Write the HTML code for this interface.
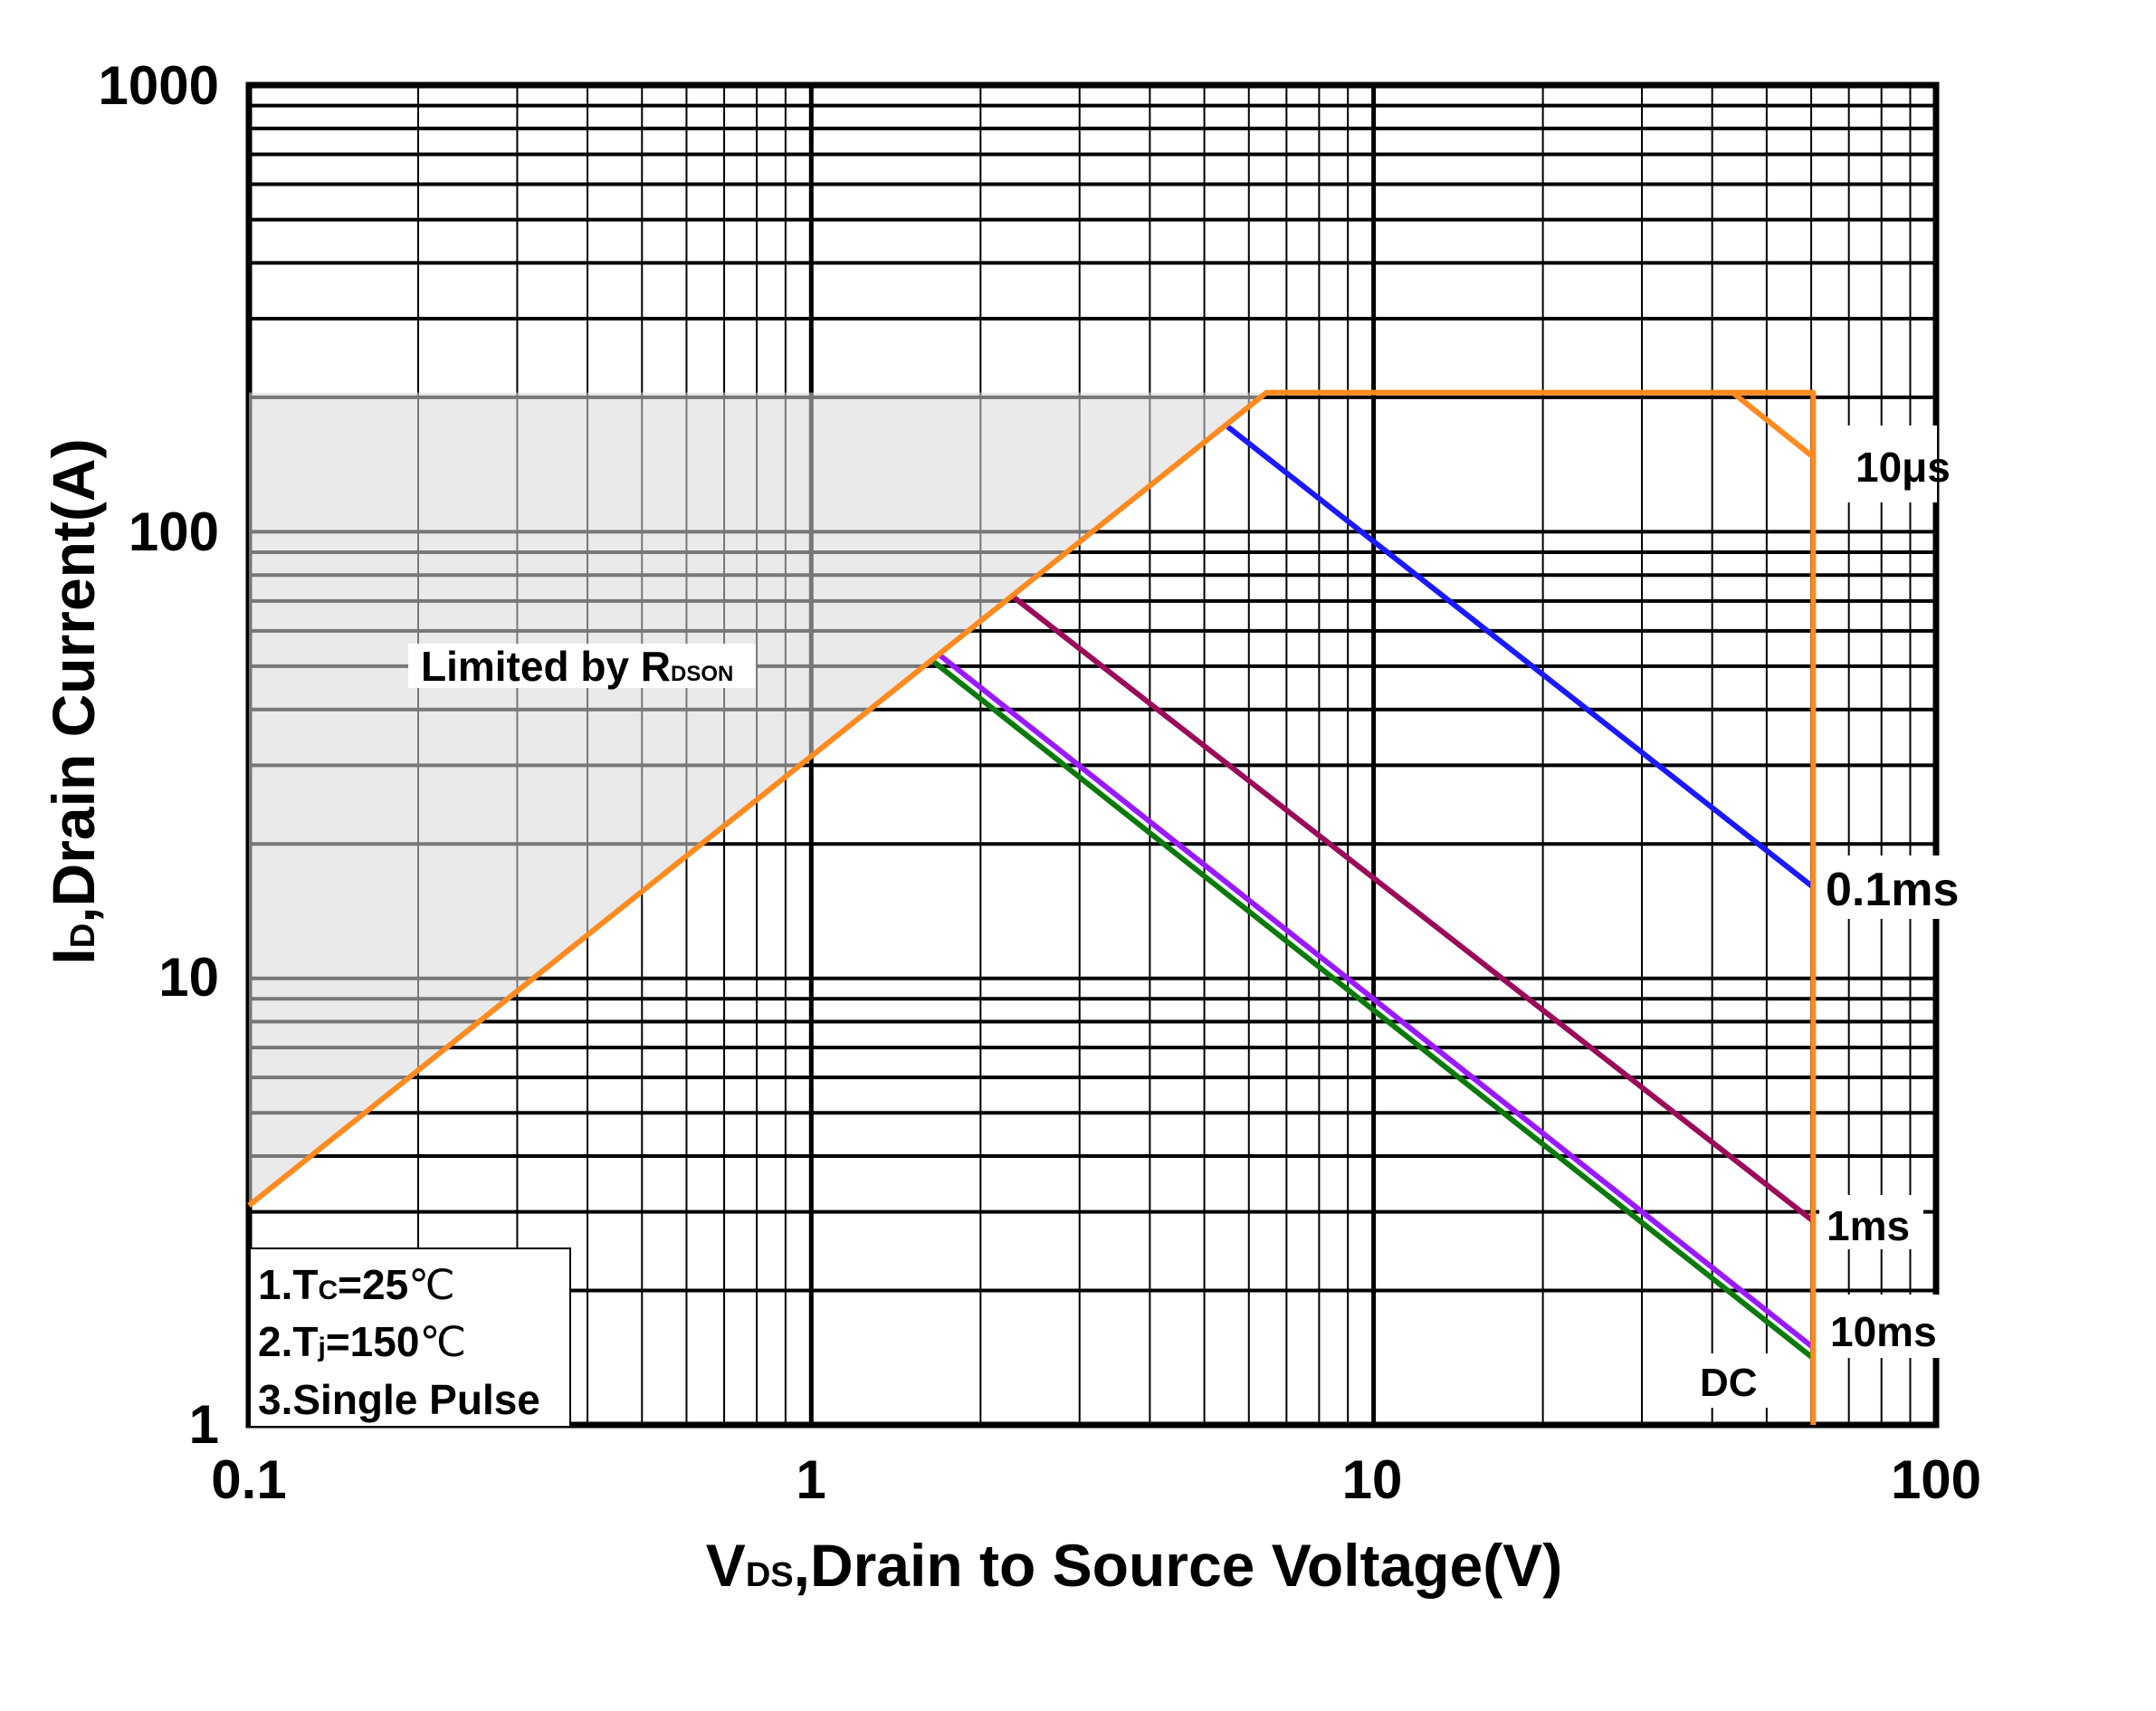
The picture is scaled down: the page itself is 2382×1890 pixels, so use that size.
<!DOCTYPE html>
<html><head><meta charset="utf-8"><style>
html,body{margin:0;padding:0;background:#fff}
svg{display:block}
text{font-family:"Liberation Sans",sans-serif;font-weight:bold;fill:#000}
</style></head><body>
<svg id="s" width="2382" height="1890" viewBox="0 0 2382 1890" xmlns="http://www.w3.org/2000/svg">
<g id="grid"></g>
<polygon id="gray" fill="#d8d8d8" fill-opacity="0.55"/>
<g id="curves" fill="none" stroke-width="6" stroke-linejoin="round"></g>
<rect x="2040" y="470" width="100" height="85" fill="#fff"/>
<text x="2050" y="532" font-size="46">10μs</text>
<rect x="2008" y="945" width="180" height="70" fill="#fff"/>
<text x="2017" y="1000" font-size="52">0.1ms</text>
<rect x="2010" y="1320" width="115" height="60" fill="#fff"/>
<text x="2018" y="1370" font-size="46">1ms</text>
<rect x="2010" y="1430" width="155" height="70" fill="#fff"/>
<text x="2022" y="1487" font-size="46">10ms</text>
<rect x="1870" y="1495" width="85" height="60" fill="#fff"/>
<text x="1878" y="1542" font-size="44">DC</text>
<rect x="451" y="711" width="384" height="49" fill="#fff"/>
<text x="465" y="752" font-size="46">Limited by R<tspan font-size="24">DSON</tspan></text>
<rect x="276" y="1379" width="354" height="197" fill="#fff" stroke="#000" stroke-width="2"/>
<text x="285" y="1435" font-size="46">1.T<tspan font-size="30">C</tspan>=25<tspan font-family="Liberation Serif,serif" font-weight="normal">℃</tspan></text>
<text x="285" y="1498" font-size="46">2.T<tspan font-size="30">j</tspan>=150<tspan font-family="Liberation Serif,serif" font-weight="normal">℃</tspan></text>
<text x="285" y="1562" font-size="46">3.Single Pulse</text>
<g font-size="60" text-anchor="end">
<text x="242" y="115">1000</text>
<text x="242" y="608">100</text>
<text x="242" y="1100">10</text>
<text x="242" y="1594">1</text>
</g>
<g font-size="60" text-anchor="middle">
<text x="275" y="1655">0.1</text>
<text x="896" y="1655">1</text>
<text x="1516" y="1655">10</text>
<text x="2139" y="1655">100</text>
</g>
<text x="1253" y="1752" font-size="66" text-anchor="middle">V<tspan font-size="38">DS</tspan>,Drain to Source Voltage(V)</text>
<text transform="translate(104,775) rotate(-90)" font-size="66" text-anchor="middle">I<tspan font-size="38">D</tspan>,Drain Current(A)</text>
</svg>
<script>
var X=function(v){return 275+621.3*(Math.log10(v)+1)},Y=function(i){return 1574-493.3*Math.log10(i)};
var g=document.getElementById('grid'),h='';
for(var d=-1;d<2;d++)for(var k=1;k<10;k++){var v=k*Math.pow(10,d);var x=X(v);var w=(k==1)?5:2;h+='<line x1="'+x+'" y1="94" x2="'+x+'" y2="1574" stroke="#000" stroke-width="'+w+'"/>';}
for(var d=0;d<3;d++)for(var k=1;k<10;k++){var y=Y(k*Math.pow(10,d));h+='<line x1="275" y1="'+y+'" x2="2139" y2="'+y+'" stroke="#000" stroke-width="4"/>';}
h+='<rect x="275" y="94" width="1864" height="1480" fill="none" stroke="#000" stroke-width="7"/>';
g.innerHTML=h;
document.getElementById('gray').setAttribute('points',X(0.1)+','+Y(205)+' '+X(6.45)+','+Y(205)+' '+X(0.1)+','+Y(3.1));
var c='';
function pl(col,pts){c+='<polyline stroke="'+col+'" points="'+pts.map(function(p){return X(p[0])+','+Y(p[1])}).join(' ')+'"/>';}
pl('#1a1aff',[[5.5,172],[60.5,16]]);
pl('#9b0b5a',[[2.27,72],[60.5,2.86]]);
pl('#0a7a0a',[[1.64,51.5],[60.5,1.41]]);
pl('#9a1aff',[[1.69,53],[60.5,1.49]]);
pl('#ff8a1e',[[0.1,3.1],[6.45,205],[60.5,205],[60.5,1]]);
pl('#ff8a1e',[[43.5,205],[60.5,147]]);
document.getElementById('curves').innerHTML=c;
</script>
</body></html>
